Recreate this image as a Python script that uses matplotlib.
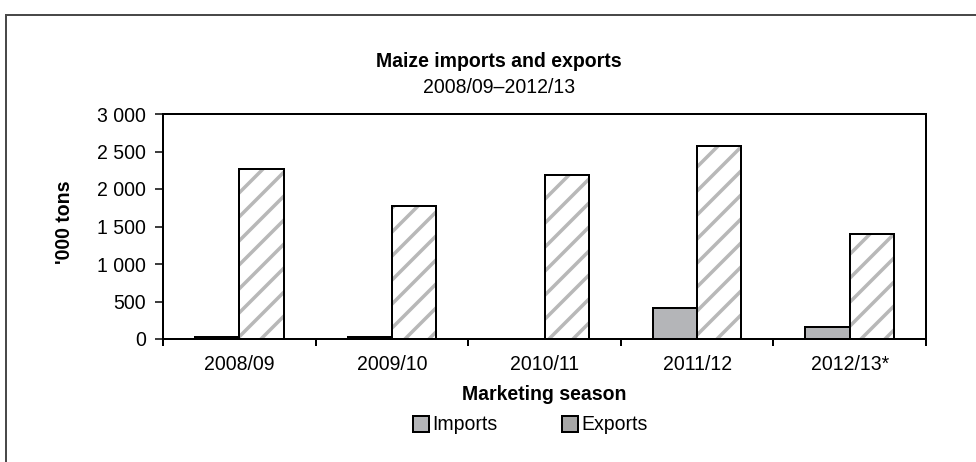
import numpy as np
import matplotlib
matplotlib.use("Agg")
import matplotlib.pyplot as plt
from matplotlib.patches import Patch
from matplotlib.lines import Line2D

# Data ('000 tons)
seasons = ['2008/09', '2009/10', '2010/11', '2011/12', '2012/13*']
imports = [28, 26, 0, 413, 164]
exports = [2267, 1778, 2187, 2573, 1396]
ytick_vals = [0, 500, 1000, 1500, 2000, 2500, 3000]
ytick_labels = ['0', '500', '1 000', '1 500', '2 000', '2 500', '3 000']

plt.rcParams['font.family'] = ['Liberation Sans', 'DejaVu Sans']
plt.rcParams['font.size'] = 19.5
plt.rcParams['hatch.linewidth'] = 3.5

imp_color = '#b4b5b8'
hatch_color = '#b8b8b8'

fig = plt.figure(figsize=(976/72, 462/72), dpi=72)
ax = fig.add_axes([163/976, 1-339/462, (926-163)/976, (339-114)/462])

x = np.arange(len(seasons))
w = 0.29

ax.bar(x - w/2, imports, w, color=imp_color, edgecolor='black', linewidth=2)
# hatched exports: grey stripes, then black outline on top
ax.bar(x + w/2, exports, w, color='white', edgecolor=hatch_color, hatch='/', linewidth=0)
ax.bar(x + w/2, exports, w, fill=False, edgecolor='black', linewidth=2)

ax.set_xlim(-0.5, 4.5)
ax.set_ylim(0, 3000)
ax.set_yticks(ytick_vals)
ax.set_yticklabels(ytick_labels)
ax.set_xticks(x)
ax.set_xticklabels(seasons)
ax.set_xticks(np.arange(-0.5, 5, 1), minor=True)
ax.tick_params(axis='x', which='major', length=0, pad=16)
ax.tick_params(axis='x', which='minor', length=7, width=2, direction='out')
ax.tick_params(axis='y', length=8, width=1.5, direction='out', pad=9)
for s in ax.spines.values():
    s.set_linewidth(2)

# Titles and labels
fig.text(499/976, 1-67/462, 'Maize imports and exports', ha='center', va='baseline',
         fontweight='bold')
fig.text(499/976, 1-93/462, '2008/09\u20132012/13', ha='center', va='baseline')
fig.text(544/976, 1-400/462, 'Marketing season', ha='center', va='baseline',
         fontweight='bold')
fig.text(64.5/976, 1-222/462, "'000 tons", ha='center', va='center', rotation=90,
         fontweight='bold')

# Legend
h_imp = Patch(facecolor=imp_color, edgecolor='black', linewidth=2)
h_exp = Patch(facecolor='#a6a6a6', edgecolor='black', linewidth=2)
fig.legend([h_imp, h_exp], ['Imports', 'Exports'], loc='center',
           bbox_to_anchor=(530/976, 1-425/462), ncol=2, frameon=False,
           handlelength=0.85, handleheight=0.85, handletextpad=0.15,
           columnspacing=3.3, borderpad=0, borderaxespad=0)

# Outer frame (top and left edges only visible)
fig.add_artist(Line2D([6/976, 1], [1-15/462, 1-15/462], color='#4a4a4a', lw=2,
                      transform=fig.transFigure))
fig.add_artist(Line2D([6/976, 6/976], [0, 1-15/462], color='#4a4a4a', lw=2,
                      transform=fig.transFigure))

fig.savefig('out.png', dpi=72)
